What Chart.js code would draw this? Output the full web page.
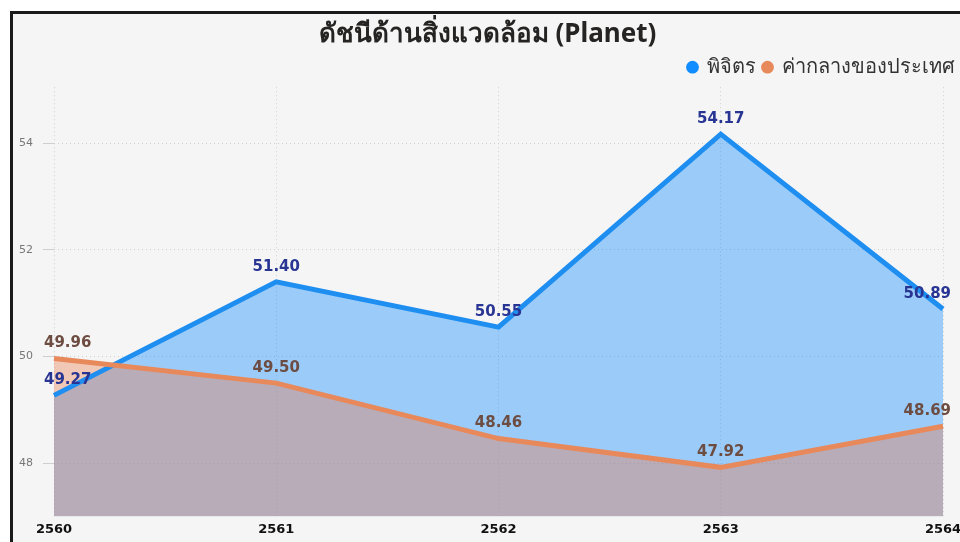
<!DOCTYPE html>
<html>
<head>
<meta charset="utf-8">
<script src="https://cdn.jsdelivr.net/npm/chart.js@4.4.0/dist/chart.umd.min.js"></script>
<style>
  html, body { margin: 0; padding: 0; background: #fff; overflow: hidden; width: 960px; height: 542px; }
  #frame { position: absolute; left: 10px; top: 11px; width: 1000px; height: 560px; border: 3px solid #1a1a1a; background: #f5f5f5; }
  canvas { display: block; }
</style>
</head>
<body>
<div id="frame"><canvas id="chart" width="1000" height="540"></canvas></div>
<script>
const years = ["2560", "2561", "2562", "2563", "2564"];
const phichitValues = [49.27, 51.40, 50.55, 54.17, 50.89];
const nationalValues = [49.96, 49.50, 48.46, 47.92, 48.69];
const yTicks = [48, 50, 52, 54];

// ตัวเลขกำกับบนจุด
const valueLabels = {
  id: "valueLabels",
  afterDatasetsDraw(chart) {
    const { ctx, chartArea } = chart;
    ctx.save();
    ctx.font = "bold 15px 'DejaVu Sans'";
    ctx.textAlign = "center";
    ctx.textBaseline = "middle";
    chart.data.datasets.forEach((ds, i) => {
      const meta = chart.getDatasetMeta(i);
      meta.data.forEach((pt, j) => {
        const text = ds.data[j].toFixed(2);
        const w = ctx.measureText(text).width;
        const x = Math.min(Math.max(pt.x, chartArea.left - 10 + w / 2), chartArea.right + 8 - w / 2);
        ctx.fillStyle = ds.labelColor;
        ctx.fillText(text, x, pt.y - 15);
      });
    });
    ctx.restore();
  }
};

const dotted = { color: "#cfcfcf", lineWidth: 1 };

new Chart(document.getElementById("chart"), {
  type: "line",
  data: {
    labels: years,
    datasets: [
      {
        label: "พิจิตร",
        data: phichitValues,
        borderColor: "#1f8ef1",
        backgroundColor: "rgba(17,141,255,0.4)",
        pointBackgroundColor: "#118dff",
        pointBorderColor: "#118dff",
        pointBorderWidth: 0,
        labelColor: "#283593",
        borderWidth: 5,
        pointRadius: 0,
        tension: 0,
        fill: "start",
        order: 1
      },
      {
        label: "ค่ากลางของประเทศ",
        data: nationalValues,
        borderColor: "#e8895c",
        backgroundColor: "rgba(236,120,70,0.36)",
        pointBackgroundColor: "#e8895c",
        pointBorderColor: "#e8895c",
        pointBorderWidth: 0,
        labelColor: "#6d4c41",
        borderWidth: 5,
        pointRadius: 0,
        tension: 0,
        fill: "start",
        order: 0
      }
    ]
  },
  options: {
    responsive: false,
    animation: false,
    layout: { padding: { left: 0, right: 51, top: 0, bottom: 12 } },
    plugins: {
      filler: { drawTime: "beforeDatasetsDraw" },
      tooltip: { enabled: false },
      title: {
        display: true,
        text: "ดัชนีด้านสิ่งแวดล้อม (Planet)",
        color: "#252423",
        font: { family: "'Noto Sans', 'DejaVu Sans', sans-serif", size: 26, weight: "bold" },
        padding: { top: 5, bottom: 0 }
      },
      legend: {
        position: "top",
        align: "end",
        labels: {
          usePointStyle: true,
          pointStyle: "circle",
          boxWidth: 9,
          boxHeight: 9,
          padding: 7,
          color: "#333",
          font: { family: "'Noto Sans', 'DejaVu Sans', sans-serif", size: 20 },
          sort: (a, b) => a.datasetIndex - b.datasetIndex
        }
      }
    },
    scales: {
      x: {
        offset: false,
        border: { display: false, dash: [1, 3] },
        grid: { ...dotted, drawTicks: false },
        ticks: {
          padding: 5,
          color: "#111",
          font: { family: "'DejaVu Sans'", size: 13, weight: "bold" },
          maxRotation: 0
        }
      },
      y: {
        min: 47,
        max: 55.05,
        border: { display: false, dash: [1, 3] },
        grid: { ...dotted, drawTicks: true, tickLength: 11 },
        afterBuildTicks: (s) => { s.ticks = yTicks.map((v) => ({ value: v })); },
        afterFit: (s) => { s.width = 41; },
        ticks: {
          padding: 10,
          color: "#777",
          font: { family: "'DejaVu Sans'", size: 11 }
        }
      },
      y2: {
        position: "right",
        display: true,
        grid: { display: false },
        border: { display: false },
        ticks: { display: false },
        afterFit: (s) => { s.width = 19; }
      }
    }
  },
  plugins: [valueLabels]
});
</script>
</body>
</html>
